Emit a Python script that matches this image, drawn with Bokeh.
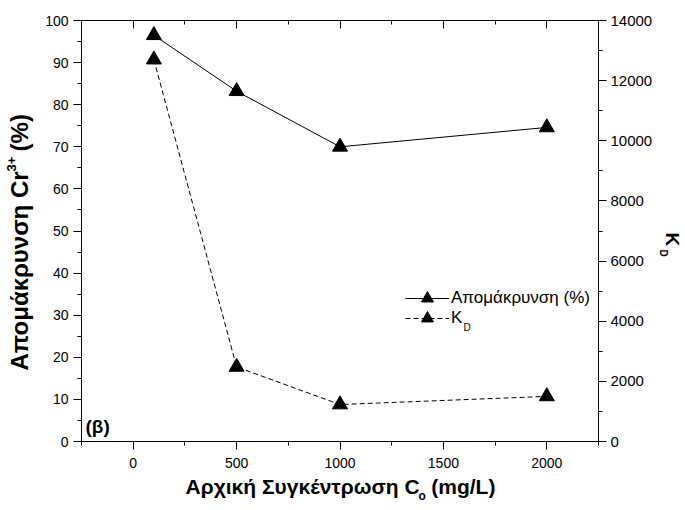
import math
from bokeh.plotting import figure
from bokeh.models import (Range1d, LinearAxis, SingleIntervalTicker, Label, Legend,
                          LegendItem, CustomJSTickFormatter)
from bokeh.embed import file_html
from bokeh.resources import INLINE

# ---- data ----
conc = [100, 500, 1000, 2000]            # initial concentration Co (mg/L)
removal = [96.5, 83.2, 70.0, 74.6]       # Cr3+ removal (%)
kd = [12700, 2480, 1230, 1500]           # KD

x_tick_step = 500
left_tick_step = 10
right_tick_step = 2000

FONT = "Liberation Sans"

# frame geometry (canvas pixels)
FL, FR, FT, FB = 81, 598, 20, 441
W, H = 685, 510

p = figure(width=W, height=H, output_backend="svg", toolbar_location=None,
           x_range=Range1d(-250, 2250), y_range=Range1d(0, 100),
           x_axis_location=None, y_axis_location=None,
           min_border_left=FL, min_border_right=W - FR,
           min_border_top=FT, min_border_bottom=H - FB)
p.extra_y_ranges = {"kd": Range1d(0, 14000)}
p.outline_line_color = "black"
p.background_fill_color = "white"
p.border_fill_color = "white"
for g in p.grid:
    g.visible = False


def style_axis(ax, inward=False, size="14px"):
    ax.axis_line_color = "black"
    ax.major_tick_line_color = "black"
    ax.minor_tick_line_color = "black"
    if inward:
        ax.major_tick_in, ax.major_tick_out = 8, 0
        ax.minor_tick_in, ax.minor_tick_out = 4, 0
    else:
        ax.major_tick_in, ax.major_tick_out = 0, 8
        ax.minor_tick_in, ax.minor_tick_out = 0, 4
    ax.major_label_text_font = FONT
    ax.major_label_text_font_size = size
    ax.major_label_text_color = "black"


left = LinearAxis(ticker=SingleIntervalTicker(interval=left_tick_step, num_minor_ticks=2))
style_axis(left)
left.major_label_standoff = 5
p.add_layout(left, "left")

bottom = LinearAxis(ticker=SingleIntervalTicker(interval=x_tick_step, num_minor_ticks=2))
style_axis(bottom)
bottom.major_label_standoff = 8
p.add_layout(bottom, "below")

top = LinearAxis(ticker=SingleIntervalTicker(interval=x_tick_step, num_minor_ticks=2),
                 formatter=CustomJSTickFormatter(code="return ''"))
style_axis(top, inward=True)
top.major_label_text_font_size = "0px"
top.major_label_standoff = 0
p.add_layout(top, "above")

right = LinearAxis(y_range_name="kd",
                   ticker=SingleIntervalTicker(interval=right_tick_step, num_minor_ticks=2))
style_axis(right, size="15px")
right.major_label_standoff = 4
p.add_layout(right, "right")

# ---- data glyphs ----
r1 = p.line(conc, removal, line_color="black", line_width=1)
s1 = p.scatter(conc, removal, marker="triangle", size=15, color="black")
r2 = p.line(conc, kd, y_range_name="kd", line_color="black", line_width=1, line_dash="5 3")
s2 = p.scatter(conc, kd, y_range_name="kd", marker="triangle", size=15, color="black")


# ---- legend: one Legend per row so rows can sit 20 px apart ----
def make_legend(item, row_center):
    lg = Legend(items=[item], location=(405 - FL, FB - (row_center + 15)),
                orientation="vertical", glyph_width=44, glyph_height=30, padding=0, margin=0,
                label_standoff=2, border_line_color=None, background_fill_alpha=0,
                label_text_font=FONT, label_text_font_size="17px", label_text_color="black")
    p.add_layout(lg)


make_legend(LegendItem(label="Απομάκρυνση (%)", renderers=[r1, s1]), 298)
make_legend(LegendItem(label="K", renderers=[r2, s2]), 318)


def lab(text, cx, cy, size, bold=False, angle=0.0, align="left", place="center"):
    # (cx, cy): canvas position of the text's vertical middle
    p.add_layout(Label(x=cx, y=cy, x_units="canvas", y_units="canvas",
                       text=text, text_font=FONT, text_font_size=size,
                       text_font_style="bold" if bold else "normal", text_color="black",
                       angle=angle, text_align=align, text_baseline="middle"), place)


# legend subscript D
lab("D", 463, 327, "10px")

# x axis label (gap left for the subscript o)
XL = "Αρχική Συγκέντρωση C\u00a0\u00a0(mg/L)"
lab(XL, 185, 486, "21px", bold=True, place="below")
lab("o", 418, 495, "12px", bold=True, place="above")

# left y axis label (reads upward, gap left for the superscript 3+)
YL = "Απομάκρυνση Cr\u00a0\u00a0\u00a0(%)"
lab(YL, 19, 370, "24px", bold=True, angle=math.pi / 2, place="left")
lab("3+", 11, 171, "13px", bold=True, angle=math.pi / 2, place="left")

# right y axis label (reads downward)
lab("K", 672, 232, "19px", bold=True, angle=-math.pi / 2, place="right")
lab("D", 663, 249, "10px", bold=True, angle=-math.pi / 2, place="below")

# panel tag
lab("(β)", 85, 426, "19px", bold=True)

open("out.html", "w").write(file_html(p, INLINE))
